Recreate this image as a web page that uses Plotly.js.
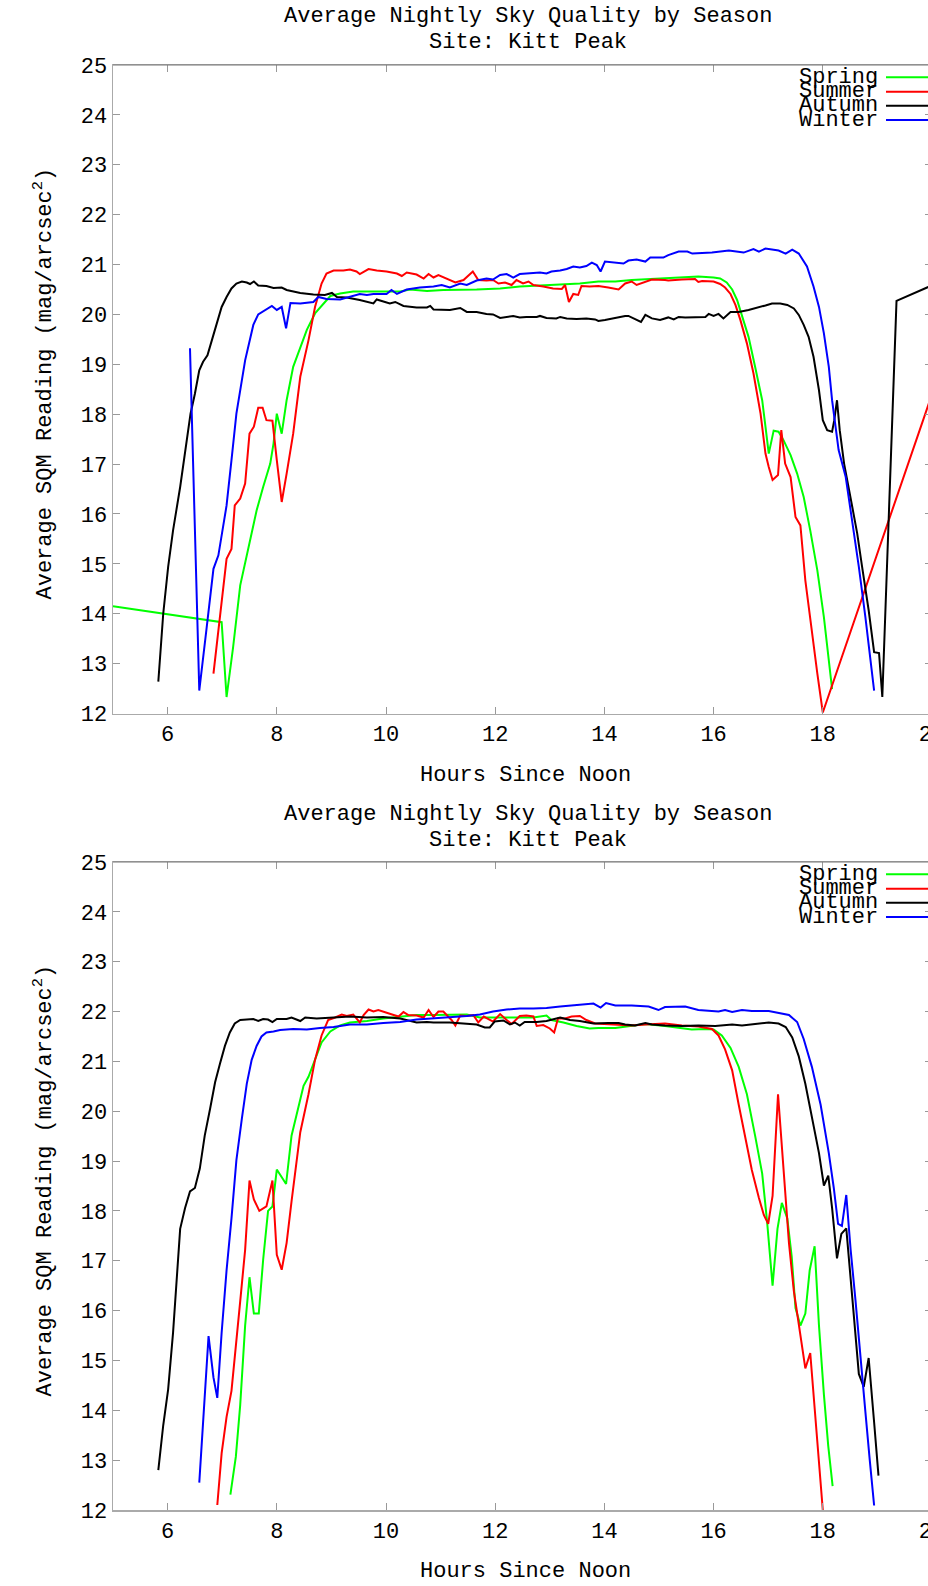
<!DOCTYPE html>
<html>
<head>
<meta charset="utf-8">
<script src="https://cdn.plot.ly/plotly-3.0.1.min.js"></script>
<style>
html, body { margin:0; padding:0; overflow:hidden; background:#fff; width:928px; height:1586px; }
#chart { width:940px; height:1586px; }
</style>
</head>
<body>
<div id="chart"></div>
<script>
// ---------------- DATA ----------------
const seasons = ["Spring", "Summer", "Autumn", "Winter"];
const seasonColors = ["#00ff00", "#ff0000", "#000000", "#0000ff"];
const chartTitle = "Average Nightly Sky Quality by Season";
const siteTitle = "Site: Kitt Peak";
const xTitle = "Hours Since Noon";
const yTitle = "Average SQM Reading (mag/arcsec<sup>2</sup>)";
const xTickVals = [6, 8, 10, 12, 14, 16, 18, 20];
const yTickVals = [12, 13, 14, 15, 16, 17, 18, 19, 20, 21, 22, 23, 24, 25];

// Upper panel
const topSpringX = [5.0,6.99,7.08,7.20,7.33,7.48,7.63,7.75,7.88,7.94,8.0,8.09,8.18,8.30,8.43,8.55,8.70,8.85,8.98,9.16,9.40,9.65,9.95,10.26,10.44,10.75,11.05,11.36,11.66,12.09,12.45,12.82,13.19,13.55,13.89,14.20,14.50,14.81,15.11,15.42,15.72,16.0,16.12,16.24,16.34,16.43,16.52,16.64,16.76,16.89,16.95,17.01,17.10,17.19,17.28,17.41,17.53,17.65,17.77,17.90,18.02,18.11,18.17];
const topSpringY = [14.15,13.83,12.33,13.33,14.57,15.34,16.07,16.54,17.01,17.41,18.01,17.61,18.28,18.95,19.35,19.69,20.02,20.22,20.37,20.42,20.46,20.46,20.46,20.46,20.50,20.47,20.49,20.49,20.50,20.52,20.56,20.58,20.60,20.62,20.66,20.66,20.69,20.71,20.72,20.74,20.76,20.74,20.72,20.64,20.50,20.29,19.99,19.55,18.95,18.28,17.75,17.21,17.67,17.65,17.48,17.18,16.81,16.34,15.67,14.87,13.93,13.06,12.49];

const topSummerX = [6.84,6.96,7.08,7.17,7.23,7.33,7.42,7.50,7.58,7.66,7.74,7.81,7.92,8.0,8.09,8.18,8.30,8.43,8.58,8.70,8.82,8.91,9.04,9.22,9.34,9.46,9.52,9.68,9.83,10.01,10.20,10.29,10.38,10.56,10.69,10.78,10.87,10.96,11.11,11.27,11.42,11.51,11.59,11.69,11.84,11.96,12.06,12.18,12.30,12.39,12.51,12.61,12.70,12.88,13.06,13.22,13.28,13.35,13.43,13.52,13.58,13.73,13.89,14.07,14.26,14.38,14.50,14.59,14.75,14.87,15.11,15.17,15.42,15.66,15.72,15.79,16.0,16.12,16.21,16.31,16.40,16.49,16.61,16.73,16.86,16.95,17.01,17.08,17.18,17.24,17.31,17.41,17.50,17.59,17.68,17.80,17.90,18.0,20.0];
const topSummerY = [12.80,13.90,15.10,15.30,16.17,16.31,16.61,17.61,17.75,18.13,18.13,17.88,17.87,17.08,16.24,16.81,17.61,18.75,19.48,20.15,20.62,20.82,20.88,20.88,20.90,20.86,20.81,20.91,20.88,20.86,20.82,20.77,20.84,20.80,20.72,20.81,20.74,20.79,20.72,20.64,20.69,20.77,20.86,20.69,20.68,20.69,20.62,20.64,20.59,20.69,20.62,20.66,20.59,20.56,20.52,20.51,20.59,20.25,20.41,20.39,20.57,20.56,20.57,20.54,20.50,20.62,20.66,20.59,20.66,20.70,20.69,20.68,20.70,20.71,20.65,20.67,20.66,20.61,20.54,20.41,20.19,19.89,19.42,18.82,18.01,17.21,16.94,16.68,16.78,17.68,17.01,16.74,15.94,15.77,14.67,13.60,12.80,12.02,18.40];

const topAutumnX = [5.83,5.92,6.01,6.10,6.23,6.34,6.42,6.50,6.58,6.65,6.73,6.81,6.90,6.99,7.08,7.17,7.26,7.36,7.45,7.51,7.58,7.66,7.81,7.94,8.09,8.18,8.43,8.67,8.88,9.01,9.10,9.28,9.52,9.77,9.83,10.07,10.17,10.32,10.56,10.75,10.81,10.87,11.17,11.36,11.48,11.66,11.84,11.96,12.09,12.21,12.33,12.45,12.57,12.76,12.82,12.94,13.12,13.19,13.31,13.49,13.67,13.83,13.89,14.01,14.13,14.38,14.44,14.56,14.67,14.75,14.87,15.02,15.17,15.27,15.36,15.48,15.72,15.85,15.91,16.0,16.09,16.18,16.31,16.46,16.64,16.83,16.95,17.07,17.22,17.35,17.47,17.56,17.65,17.74,17.83,17.93,18.0,18.08,18.17,18.21,18.26,18.31,18.39,18.54,18.63,18.72,18.84,18.94,19.03,19.09,19.35,19.91,20.0];
const topAutumnY = [12.64,14.0,14.94,15.67,16.54,17.34,18.01,18.41,18.88,19.05,19.18,19.48,19.82,20.15,20.35,20.52,20.62,20.66,20.64,20.61,20.66,20.58,20.57,20.53,20.54,20.49,20.43,20.40,20.39,20.43,20.35,20.34,20.29,20.22,20.30,20.22,20.25,20.17,20.14,20.14,20.17,20.10,20.09,20.13,20.05,20.05,20.01,20.0,19.93,19.95,19.97,19.94,19.95,19.95,19.97,19.93,19.92,19.95,19.92,19.91,19.92,19.90,19.87,19.89,19.92,19.97,19.97,19.90,19.85,19.99,19.92,19.89,19.94,19.90,19.95,19.94,19.94,19.95,20.01,19.97,20.01,19.92,20.05,20.05,20.09,20.14,20.18,20.22,20.22,20.19,20.12,19.99,19.79,19.55,19.15,18.48,17.88,17.68,17.65,17.88,18.28,17.68,17.01,16.14,15.61,14.94,14.07,13.23,13.21,12.33,20.27,20.54,20.58];

const topWinterX = [6.41,6.58,6.71,6.84,6.93,7.08,7.17,7.26,7.42,7.57,7.66,7.78,7.91,8.0,8.09,8.17,8.25,8.43,8.67,8.76,8.91,9.16,9.28,9.52,9.65,9.77,10.01,10.10,10.20,10.38,10.62,10.87,11.02,11.17,11.36,11.48,11.66,11.84,11.96,12.09,12.21,12.33,12.45,12.64,12.82,12.94,13.03,13.19,13.31,13.43,13.55,13.67,13.77,13.86,13.93,14.01,14.17,14.35,14.44,14.59,14.75,14.84,15.08,15.17,15.36,15.52,15.61,15.97,16.28,16.46,16.55,16.73,16.83,16.95,17.19,17.32,17.44,17.56,17.71,17.83,17.93,18.02,18.11,18.17,18.29,18.42,18.54,18.66,18.78,18.87,18.94];
const topWinterY = [19.32,12.46,13.67,14.90,15.17,16.17,17.08,18.01,19.08,19.79,20.0,20.09,20.17,20.09,20.15,19.72,20.23,20.22,20.25,20.35,20.31,20.30,20.34,20.41,20.39,20.41,20.41,20.49,20.41,20.50,20.54,20.56,20.59,20.54,20.62,20.59,20.68,20.72,20.70,20.79,20.81,20.74,20.81,20.82,20.84,20.82,20.86,20.88,20.91,20.96,20.94,20.97,21.04,20.99,20.86,21.06,21.04,21.02,21.08,21.10,21.06,21.14,21.14,21.19,21.26,21.26,21.22,21.24,21.28,21.26,21.24,21.31,21.26,21.32,21.28,21.22,21.30,21.22,20.96,20.56,20.15,19.62,18.95,18.28,17.28,16.74,15.87,14.94,13.93,13.13,12.46];

// Lower panel
const botSpringX = [7.15,7.25,7.33,7.42,7.50,7.58,7.67,7.75,7.84,7.92,8.0,8.09,8.17,8.27,8.36,8.49,8.58,8.70,8.82,8.98,9.16,9.34,9.65,9.95,10.26,10.56,10.87,11.17,11.48,11.72,11.96,12.21,12.45,12.70,12.94,13.03,13.25,13.49,13.73,13.89,14.20,14.50,14.75,15.11,15.36,15.60,15.85,16.0,16.15,16.31,16.46,16.61,16.76,16.89,16.98,17.08,17.17,17.25,17.35,17.43,17.50,17.59,17.68,17.76,17.85,17.93,18.02,18.10,18.18];
const botSpringY = [12.31,13.07,14.11,15.70,16.67,15.94,15.94,17.02,18.0,18.09,18.83,18.68,18.54,19.51,19.92,20.51,20.69,21.03,21.38,21.60,21.72,21.78,21.81,21.86,21.90,21.93,21.93,21.93,21.94,21.88,21.88,21.87,21.88,21.88,21.92,21.83,21.78,21.71,21.66,21.67,21.67,21.71,21.75,21.71,21.67,21.64,21.65,21.64,21.52,21.27,20.89,20.34,19.51,18.75,17.78,16.50,17.64,18.16,17.85,17.09,16.05,15.70,15.94,16.81,17.29,15.70,14.32,13.28,12.48];

const botSummerX = [6.91,6.99,7.08,7.17,7.33,7.42,7.50,7.58,7.68,7.81,7.92,8.0,8.09,8.18,8.27,8.43,8.58,8.70,8.82,8.94,9.07,9.19,9.28,9.40,9.52,9.59,9.68,9.77,9.86,10.01,10.14,10.23,10.32,10.41,10.56,10.69,10.78,10.87,10.96,11.05,11.20,11.27,11.36,11.48,11.60,11.69,11.79,11.96,12.09,12.21,12.30,12.45,12.57,12.70,12.76,12.88,13.00,13.08,13.15,13.28,13.40,13.55,13.67,13.83,13.98,14.20,14.50,14.75,15.11,15.42,15.72,15.97,16.09,16.21,16.34,16.46,16.58,16.70,16.83,16.92,17.0,17.08,17.18,17.28,17.38,17.47,17.56,17.68,17.77,17.87,17.94,18.0];
const botSummerY = [12.10,13.14,13.87,14.39,16.19,17.22,18.61,18.23,18.0,18.09,18.61,17.12,16.82,17.36,18.19,19.58,20.34,21.03,21.52,21.83,21.88,21.94,21.91,21.94,21.78,21.93,22.04,22.0,22.03,21.97,21.93,21.90,21.99,21.93,21.92,21.88,22.03,21.89,22.0,22.0,21.83,21.72,21.92,21.91,21.93,21.78,21.90,21.80,21.95,21.83,21.75,21.91,21.92,21.90,21.71,21.73,21.66,21.58,21.86,21.86,21.90,21.91,21.83,21.76,21.75,21.75,21.72,21.74,21.76,21.72,21.70,21.65,21.52,21.24,20.82,20.13,19.44,18.82,18.26,17.92,17.74,18.30,20.34,18.89,17.36,16.39,15.70,14.84,15.15,13.76,12.80,12.0];

const botAutumnX = [5.83,5.92,6.01,6.10,6.23,6.32,6.41,6.50,6.59,6.68,6.78,6.87,6.96,7.05,7.14,7.23,7.33,7.48,7.57,7.66,7.75,7.84,7.92,8.0,8.18,8.27,8.43,8.52,8.73,9.04,9.34,9.65,9.95,10.26,10.56,10.75,10.87,11.17,11.48,11.66,11.81,11.90,11.99,12.15,12.27,12.36,12.45,12.54,12.76,12.94,13.19,13.37,13.55,13.80,14.07,14.26,14.38,14.56,14.75,14.87,15.11,15.42,15.72,16.03,16.34,16.52,16.76,17.01,17.19,17.32,17.44,17.56,17.68,17.80,17.93,18.02,18.10,18.17,18.26,18.34,18.43,18.54,18.66,18.75,18.84,18.94,19.02];
const botAutumnY = [12.80,13.70,14.42,15.56,17.64,18.06,18.39,18.46,18.85,19.51,20.06,20.58,20.96,21.31,21.58,21.76,21.83,21.85,21.85,21.81,21.85,21.84,21.79,21.85,21.85,21.88,21.81,21.88,21.86,21.88,21.90,21.88,21.89,21.86,21.78,21.79,21.78,21.78,21.76,21.74,21.68,21.68,21.80,21.82,21.74,21.78,21.72,21.79,21.79,21.81,21.88,21.83,21.81,21.76,21.77,21.77,21.74,21.72,21.77,21.74,21.72,21.71,21.72,21.71,21.74,21.72,21.75,21.78,21.76,21.69,21.48,21.10,20.55,19.85,19.16,18.51,18.71,18.06,17.05,17.54,17.65,16.26,14.73,14.47,15.05,13.76,12.69];

const botWinterX = [6.58,6.75,6.84,6.91,6.99,7.08,7.17,7.26,7.36,7.45,7.54,7.63,7.72,7.81,7.94,8.06,8.30,8.55,8.79,9.04,9.34,9.65,9.95,10.26,10.56,10.87,11.17,11.48,11.72,11.96,12.21,12.45,12.70,12.94,13.19,13.43,13.67,13.80,13.93,14.03,14.20,14.50,14.81,14.99,15.11,15.48,15.72,15.91,16.09,16.21,16.34,16.52,16.70,17.01,17.19,17.38,17.53,17.65,17.80,17.96,18.11,18.20,18.28,18.35,18.43,18.51,18.60,18.69,18.78,18.86,18.94];
const botWinterY = [12.55,15.49,14.66,14.25,15.56,16.81,17.85,19.02,19.85,20.55,21.03,21.31,21.50,21.58,21.60,21.63,21.65,21.64,21.67,21.69,21.74,21.74,21.77,21.79,21.84,21.86,21.89,21.91,21.94,22.0,22.04,22.06,22.06,22.07,22.10,22.12,22.14,22.16,22.08,22.17,22.12,22.12,22.10,22.03,22.09,22.10,22.03,22.01,22.0,22.03,21.99,22.03,22.01,22.01,21.97,21.93,21.79,21.45,20.89,20.13,19.16,18.47,17.74,17.70,18.32,17.22,16.19,15.01,13.97,13.0,12.09];

// ---------------- CHART ----------------
const FONT = "Liberation Mono, DejaVu Sans Mono, monospace";
const W = 940, H = 1586, ML = 113, MR = 8;
const plotW = W - ML - MR;
const px2x = p => (p - ML) / plotW;
const py2y = p => (H - p) / H;

const topX = [topSpringX, topSummerX, topAutumnX, topWinterX];
const topY = [topSpringY, topSummerY, topAutumnY, topWinterY];
const botX = [botSpringX, botSummerX, botAutumnX, botWinterX];
const botY = [botSpringY, botSummerY, botAutumnY, botWinterY];

const traces = [];
seasons.forEach((s, i) => {
  traces.push({x: topX[i], y: topY[i], type: "scatter", mode: "lines", name: s,
    line: {color: seasonColors[i], width: 2}, xaxis: "x", yaxis: "y", showlegend: false});
});
seasons.forEach((s, i) => {
  traces.push({x: botX[i], y: botY[i], type: "scatter", mode: "lines", name: s,
    line: {color: seasonColors[i], width: 2}, xaxis: "x2", yaxis: "y2", showlegend: false});
});

function xAxis(anchor) {
  return {range: [5, 20], domain: [0, 1], anchor: anchor, tickvals: xTickVals,
    ticktext: xTickVals.map(String), ticks: "inside", ticklen: 7, tickcolor: "#999", tickwidth: 1,
    showline: true, linecolor: "#aaa", linewidth: 1.5, mirror: "ticks",
    ticklabeloverflow: "allow",
    showgrid: false, zeroline: false, tickfont: {family: FONT, size: 22, color: "#000"}};
}
function yAxis(anchor, dom) {
  return {range: [12, 25], domain: dom, anchor: anchor, tickvals: yTickVals,
    ticktext: yTickVals.map(String), ticks: "inside", ticklen: 7, tickcolor: "#999", tickwidth: 1,
    showline: true, linecolor: "#aaa", linewidth: 1.5, mirror: "ticks",
    ticklabeloverflow: "allow",
    showgrid: false, zeroline: false, tickfont: {family: FONT, size: 22, color: "#000"}};
}

const panels = [
  {top: 65, titleY: 16.5, siteY: 42.5, xtY: 775, ytY: 384, legY: [77.3, 91.7, 105.7, 120]},
  {top: 862, titleY: 814, siteY: 840, xtY: 1571, ytY: 1181, legY: [874.3, 888.7, 902.7, 917]}
];
const annotations = [];
const shapes = [];
const tf = {family: FONT, size: 22, color: "#000"};
panels.forEach(p => {
  annotations.push({text: chartTitle, xref: "paper", yref: "paper", x: px2x(528), y: py2y(p.titleY),
    xanchor: "center", yanchor: "middle", showarrow: false, font: tf});
  annotations.push({text: siteTitle, xref: "paper", yref: "paper", x: px2x(528), y: py2y(p.siteY),
    xanchor: "center", yanchor: "middle", showarrow: false, font: tf});
  annotations.push({text: xTitle, xref: "paper", yref: "paper", x: px2x(525), y: py2y(p.xtY),
    xanchor: "center", yanchor: "middle", showarrow: false, font: tf});
  annotations.push({text: yTitle, xref: "paper", yref: "paper", x: px2x(42.5), y: py2y(p.ytY),
    xanchor: "center", yanchor: "middle", textangle: -90, showarrow: false, font: tf});
  // darker top frame edge
  shapes.push({type: "line", xref: "paper", yref: "paper", x0: 0, x1: 1,
    y0: py2y(p.top), y1: py2y(p.top), line: {color: "#777", width: 1}});
  seasons.forEach((s, i) => {
    annotations.push({text: s, xref: "paper", yref: "paper", x: px2x(880), y: py2y(p.legY[i]),
      xanchor: "right", yanchor: "middle", showarrow: false, font: tf});
    shapes.push({type: "line", xref: "paper", yref: "paper", x0: px2x(886), x1: px2x(930),
      y0: py2y(p.legY[i]), y1: py2y(p.legY[i]), line: {color: seasonColors[i], width: 2}});
  });
});

const layout = {
  width: W, height: H,
  margin: {l: ML, r: MR, t: 0, b: 0},
  paper_bgcolor: "#fff", plot_bgcolor: "#fff",
  showlegend: false,
  xaxis: xAxis("y"),
  yaxis: yAxis("x", [py2y(713.5), py2y(65)]),
  xaxis2: xAxis("y2"),
  yaxis2: yAxis("x2", [py2y(1510), py2y(862)]),
  annotations: annotations,
  shapes: shapes
};

Plotly.newPlot("chart", traces, layout, {staticPlot: true, displayModeBar: false});
</script>
</body>
</html>
